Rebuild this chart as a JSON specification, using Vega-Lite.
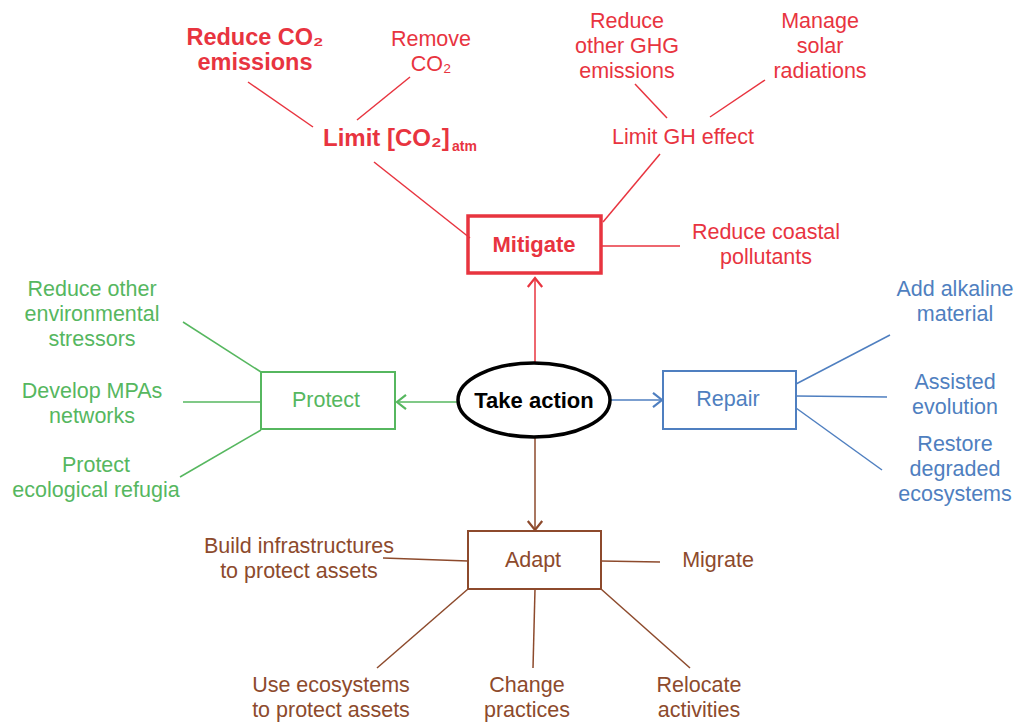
{
  "$schema": "https://vega.github.io/schema/vega-lite/v6.json",
  "width": 1019,
  "height": 722,
  "autosize": {"type": "none"},
  "padding": 0,
  "background": "white",
  "config": {"view": {"stroke": null}},
  "datasets": {
    "segs": [
      {"x": 248, "y": 82, "x2": 313, "y2": 127, "g": "red"},
      {"x": 357, "y": 120, "x2": 410, "y2": 77, "g": "red"},
      {"x": 374, "y": 162, "x2": 470, "y2": 238, "g": "red"},
      {"x": 635, "y": 84, "x2": 667, "y2": 118, "g": "red"},
      {"x": 710, "y": 117, "x2": 765, "y2": 80, "g": "red"},
      {"x": 660, "y": 154, "x2": 603, "y2": 222, "g": "red"},
      {"x": 601, "y": 246, "x2": 680, "y2": 246, "g": "red"},
      {"x": 535, "y": 364, "x2": 535, "y2": 279, "g": "red"},
      {"x": 183, "y": 322, "x2": 261, "y2": 372, "g": "green"},
      {"x": 183, "y": 402, "x2": 261, "y2": 402, "g": "green"},
      {"x": 180, "y": 477, "x2": 261, "y2": 430, "g": "green"},
      {"x": 458, "y": 402, "x2": 398, "y2": 402, "g": "green"},
      {"x": 796, "y": 384, "x2": 890, "y2": 335, "g": "blue"},
      {"x": 796, "y": 396, "x2": 887, "y2": 397, "g": "blue"},
      {"x": 796, "y": 408, "x2": 882, "y2": 470, "g": "blue"},
      {"x": 611, "y": 400, "x2": 661, "y2": 400, "g": "blue"},
      {"x": 535, "y": 437, "x2": 535, "y2": 529, "g": "brown"},
      {"x": 383, "y": 558, "x2": 468, "y2": 561, "g": "brown"},
      {"x": 601, "y": 561, "x2": 660, "y2": 562, "g": "brown"},
      {"x": 468, "y": 589, "x2": 377, "y2": 668, "g": "brown"},
      {"x": 535, "y": 589, "x2": 533, "y2": 668, "g": "brown"},
      {"x": 601, "y": 589, "x2": 690, "y2": 668, "g": "brown"}
    ],
    "boxes": [
      {"x": 468, "y": 216, "x2": 601, "y2": 273, "g": "red"},
      {"x": 261, "y": 372, "x2": 395, "y2": 429, "g": "green"},
      {"x": 663, "y": 371, "x2": 796, "y2": 429, "g": "blue"},
      {"x": 468, "y": 531, "x2": 601, "y2": 589, "g": "brown"}
    ],
    "arrows": [
      {"x": 535, "y": 278, "a": 270, "g": "red"},
      {"x": 397, "y": 402, "a": 180, "g": "green"},
      {"x": 662, "y": 400, "a": 0, "g": "blue"},
      {"x": 535, "y": 530, "a": 90, "g": "brown"}
    ],
    "hub": [{"x": 534, "y": 400, "g": "black"}],
    "labels": [
      {"label": "Reduce CO₂\nemissions", "x": 255, "y": 38, "g": "red", "s": "big"},
      {"label": "Remove\nCO₂", "x": 431, "y": 40, "g": "red", "s": "reg"},
      {"label": "Limit [CO₂]", "x": 323, "y": 139, "g": "red", "s": "limit"},
      {"label": "atm", "x": 452, "y": 147, "g": "red", "s": "sub"},
      {"label": "Reduce\nother GHG\nemissions", "x": 627, "y": 22, "g": "red", "s": "reg"},
      {"label": "Manage\nsolar\nradiations", "x": 820, "y": 22, "g": "red", "s": "reg"},
      {"label": "Limit GH effect", "x": 683, "y": 138, "g": "red", "s": "reg"},
      {"label": "Mitigate", "x": 534, "y": 245, "g": "red", "s": "mid"},
      {"label": "Reduce coastal\npollutants", "x": 766, "y": 233, "g": "red", "s": "reg"},
      {"label": "Reduce other\nenvironmental\nstressors", "x": 92, "y": 290, "g": "green", "s": "reg"},
      {"label": "Develop MPAs\nnetworks", "x": 92, "y": 392, "g": "green", "s": "reg"},
      {"label": "Protect\necological refugia", "x": 96, "y": 466, "g": "green", "s": "reg"},
      {"label": "Protect", "x": 326, "y": 401, "g": "green", "s": "reg"},
      {"label": "Repair", "x": 728, "y": 400, "g": "blue", "s": "reg"},
      {"label": "Add alkaline\nmaterial", "x": 955, "y": 290, "g": "blue", "s": "reg"},
      {"label": "Assisted\nevolution", "x": 955, "y": 383, "g": "blue", "s": "reg"},
      {"label": "Restore\ndegraded\necosystems", "x": 955, "y": 445, "g": "blue", "s": "reg"},
      {"label": "Take action", "x": 534, "y": 401, "g": "black", "s": "mid"},
      {"label": "Adapt", "x": 533, "y": 561, "g": "brown", "s": "reg"},
      {"label": "Build infrastructures\nto protect assets", "x": 299, "y": 547, "g": "brown", "s": "reg"},
      {"label": "Migrate", "x": 718, "y": 561, "g": "brown", "s": "reg"},
      {"label": "Use ecosystems\nto protect assets", "x": 331, "y": 686, "g": "brown", "s": "reg"},
      {"label": "Change\npractices", "x": 527, "y": 686, "g": "brown", "s": "reg"},
      {"label": "Relocate\nactivities", "x": 699, "y": 686, "g": "brown", "s": "reg"}
    ]
  },
  "encoding": {
    "x": {"field": "x", "type": "quantitative", "scale": {"domain": [0, 1019], "nice": false, "zero": false}, "axis": null},
    "y": {"field": "y", "type": "quantitative", "scale": {"domain": [0, 722], "nice": false, "zero": false, "reverse": true}, "axis": null},
    "color": {"field": "g", "type": "nominal", "legend": null,
      "scale": {"domain": ["red", "green", "blue", "brown", "black"], "range": ["#e8343f", "#56b75f", "#4f7fc0", "#8d4a2c", "#000000"]}}
  },
  "layer": [
    {
      "data": {"name": "segs"},
      "mark": {"type": "rule", "strokeWidth": 1.5},
      "encoding": {"x2": {"field": "x2"}, "y2": {"field": "y2"}}
    },
    {
      "data": {"name": "boxes"},
      "transform": [{"filter": "datum.g == 'red'"}],
      "mark": {"type": "rect", "filled": false, "strokeWidth": 3.5},
      "encoding": {"x2": {"field": "x2"}, "y2": {"field": "y2"}}
    },
    {
      "data": {"name": "boxes"},
      "transform": [{"filter": "datum.g != 'red'"}],
      "mark": {"type": "rect", "filled": false, "strokeWidth": 2},
      "encoding": {"x2": {"field": "x2"}, "y2": {"field": "y2"}}
    },
    {
      "data": {"name": "hub"},
      "mark": {"type": "point", "shape": "M -1 0 A 1 0.487 0 1 0 1 0 A 1 0.487 0 1 0 -1 0 Z", "size": 23104, "filled": false, "fill": "white", "fillOpacity": 1, "strokeWidth": 3.5, "opacity": 1}
    },
    {
      "data": {"name": "arrows"},
      "mark": {"type": "point", "shape": "M -1 -0.8 L 0 0 L -1 0.8", "size": 324, "filled": false, "strokeWidth": 2.2, "opacity": 1},
      "encoding": {"angle": {"field": "a", "type": "quantitative", "scale": null}}
    },
    {
      "data": {"name": "labels"},
      "transform": [{"filter": "datum.s == 'reg'"}],
      "mark": {"type": "text", "font": "Liberation Sans", "fontSize": 21.5, "lineBreak": "\n", "lineHeight": 25, "align": "center", "baseline": "middle"},
      "encoding": {"text": {"field": "label"}}
    },
    {
      "data": {"name": "labels"},
      "transform": [{"filter": "datum.s == 'big'"}],
      "mark": {"type": "text", "font": "Liberation Sans", "fontWeight": "bold", "fontSize": 23.5, "lineBreak": "\n", "lineHeight": 25, "align": "center", "baseline": "middle"},
      "encoding": {"text": {"field": "label"}}
    },
    {
      "data": {"name": "labels"},
      "transform": [{"filter": "datum.s == 'mid'"}],
      "mark": {"type": "text", "font": "Liberation Sans", "fontWeight": "bold", "fontSize": 22, "align": "center", "baseline": "middle"},
      "encoding": {"text": {"field": "label"}}
    },
    {
      "data": {"name": "labels"},
      "transform": [{"filter": "datum.s == 'limit'"}],
      "mark": {"type": "text", "font": "Liberation Sans", "fontWeight": "bold", "fontSize": 24, "align": "left", "baseline": "middle"},
      "encoding": {"text": {"field": "label"}}
    },
    {
      "data": {"name": "labels"},
      "transform": [{"filter": "datum.s == 'sub'"}],
      "mark": {"type": "text", "font": "Liberation Sans", "fontWeight": "bold", "fontSize": 14, "align": "left", "baseline": "middle"},
      "encoding": {"text": {"field": "label"}}
    }
  ]
}
